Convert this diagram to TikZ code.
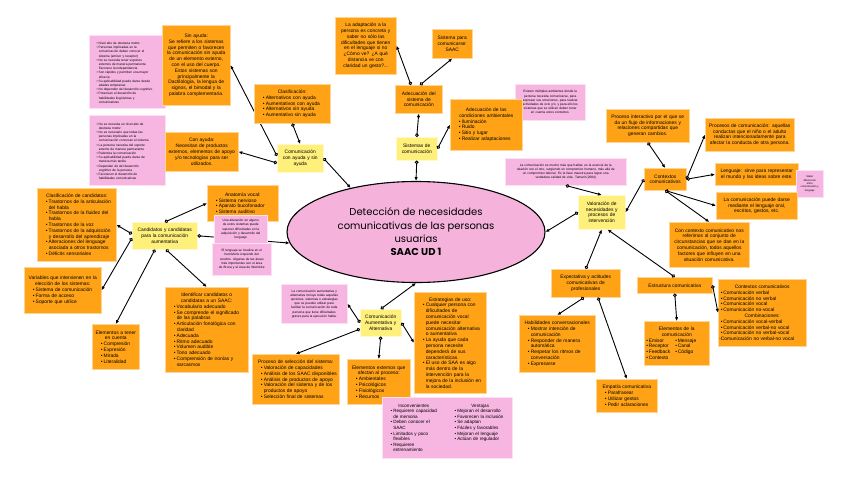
\documentclass[tikz,border=0pt]{standalone}
\usepackage{fontspec}
\setmainfont{Liberation Sans}
\newfontfamily\titlefont{Poppins}
\usetikzlibrary{shapes.geometric,arrows.meta}
\definecolor{orng}{HTML}{FFA216}
\definecolor{ylw}{HTML}{FFF07C}
\definecolor{pnk}{HTML}{F7B5E1}
\definecolor{pnkE}{HTML}{F5B3DC}
\newcommand\bodyf{\fontsize{4.9}{5.8}\selectfont}
\newcommand\tinyf{\fontsize{3.2}{4.2}\selectfont}
\newcommand\bulx[1]{\par\hangindent=#1\hangafter=1\noindent\hbox to #1{\hfil•\hskip1.1pt}}
\newcommand\bul{\bulx{10.5pt}}
\newcommand\pbul{\bulx{8.5pt}}
\newcommand\vbul{\bulx{8pt}}
\newcommand\hdr[1]{{\centering\noindent #1\par}}
\newcommand\li[1]{\par\noindent\hspace*{1.5pt}•\,#1}
\newcommand\mybox[7]{%
 \pgfmathsetmacro\bxw{#5-#3}%
 \pgfmathsetmacro\bxh{#6-#4}%
 \pgfmathsetmacro\bxt{#5-#3-2}%
 \node[#2,anchor=north west,minimum width=\bxw pt,minimum height=\bxh pt,text width=\bxt pt] (#1) at (#3,#4) {#7\par};}
\begin{document}
\begin{tikzpicture}[x=1pt,y=-1pt,
 ob/.style={fill=orng,draw=orng!45!white,line width=0.5pt,inner xsep=1pt,inner ysep=1pt,font=\bodyf,align=center},
 ol/.style={ob,align=left},
 yb/.style={ob,fill=ylw,draw=ylw!40!white},
 pb/.style={ob,fill=pnk,draw=pnk!40!white,font=\tinyf},
 pl/.style={pb,align=left},
 con/.style={draw=black,line width=0.9pt,{Circle[length=3.6pt,fill=white]}-{Latex[length=3.8pt,width=3.4pt]}}]
\fill[white] (0,0) rectangle (848,477);
\useasboundingbox (0,0) rectangle (848,477);

\mybox{pinkSin}{pl}{89}{35}{165}{108}{%
\pbul Nivel alto de destreza motriz
\pbul Personas implicadas en la\newline comunicación deben conocer el\newline sistema (emisor y receptor)
\pbul No se necesita tener soportes\newline externos de manera permanente.\newline Favorece la independencia
\pbul Son rápidos y permiten una mayor\newline eficacia
\pbul Su aplicabilidad puede darse desde\newline edades tempranas
\pbul No dependen del desarrollo cognitivo
\pbul Potencian el desarrollo de\newline habilidades lingüísticas y\newline comunicativas}
\mybox{sinayuda}{ob}{162}{25}{230}{105}{Sin ayuda:\\Se refiere a los sistemas\\que permiten o favorecen\\la comunicación sin ayuda\\de un elemento externo,\\con el uso del cuerpo.\\Estos sistemas son\\principalmente la\\Dactilología, la lengua de\\signos, el bimodal y la\\palabra complementaria.}
\mybox{pinkCon}{pl}{89}{115}{165}{185}{%
\pbul No se necesita un nivel alto de\newline destreza motriz
\pbul No es necesario que todas las\newline personas implicadas en la\newline comunicación conozcan el sistema
\pbul La persona necesita del soporte\newline externo de manera permanente
\pbul Ralentiza la comunicación
\pbul Su aplicabilidad puede darse de\newline manera más tardía
\pbul Dependen de del desarrollo\newline cognitivo de la persona
\pbul Favorecen el desarrollo de\newline habilidades comunicativas}
\mybox{conayuda}{ob}{165}{132}{238}{171}{Con ayuda:\\Necesitan de productos\\externos, elementos de apoyo\\y/o tecnologías para ser\\utilizados.}
\mybox{cay}{yb}{277}{144}{323}{172}{Comunicación\\con ayuda y sin\\ayuda}
\draw[con] ([yshift=-12pt]cay.north west) -- (sinayuda.east);
\mybox{clasif}{ol}{254}{84}{330}{123}{\hdr{Clasificación:}\bul Alternativos con ayuda\bul Aumentativos con ayuda\bul Alternativos sin ayuda\bul Aumentativo sin ayuda}

\mybox{adaptacion}{ob}{335}{17}{396}{74}{La adaptación a la\\persona es concreta y\\saber no sólo las\\dificultades que tienen\\en el lenguaje si no\\¿Cómo ve? ¿A qué\\distancia ve con\\claridad un gesto?...}
\mybox{sistemaSAAC}{ob}{432}{29}{472}{58}{Sistema para\\comunicarse:\\SAAC}
\mybox{adecSist}{ob}{395}{85}{442}{113}{Adecuación del\\sistema de\\comunicación}
\mybox{sistemasCom}{yb}{396}{137}{437}{160}{Sistemas de\\comunicación}
\mybox{pinkAmb}{pb}{515}{84}{585}{120}{Existen múltiples ambientes donde la\\persona necesita comunicarse, para\\expresar sus emociones, para realizar\\actividades de ocio y/o, y para ello los\\sistemas que se utilicen deben tener\\en cuenta estos contextos.}
\mybox{adecAmb}{ol}{450}{99}{522}{150}{\hdr{Adecuación de las\\condiciones ambientales}\bul Iluminación\bul Ruido\bul Sitio y lugar\bul Realizar adaptaciones}
\mybox{pinkQuote}{pb}{505}{158}{626}{185}{La comunicación es mucho más que hablar, es la esencia de la\\relación con el otro, surgiendo un compromiso humano, más allá de\\un compromiso laboral. Es la llave maestra para lograr una\\verdadera calidad de vida. Tamarit (2004)}

\mybox{proceso}{ob}{606}{109}{689}{142}{Proceso interactivo por el que se\\da un flujo de informaciones y\\relaciones compartidas que\\generan cambios.}
\mybox{procesosCom}{ob}{705}{118}{794}{151}{Procesos de comunicación: aquellas\\conductas que el niño o el adulto\\realizan intencionadamente para\\afectar la conducta de otra persona.}
\mybox{contextos}{ob}{644}{168}{686}{190}{Contextos\\comunicativos}
\mybox{lenguaje}{ob}{715}{163}{798}{185}{Lenguaje: sirve para representar\\el mundo y las ideas sobre este.}
\mybox{pinkSaber}{pb,font=\fontsize{2.6}{3.4}\selectfont}{796}{170}{823}{197}{Saber\\diferenciar\\entre\\comunicación y\\lenguaje}
\mybox{comPuede}{ob}{716}{192}{797}{219}{La comunicación puede darse\\mediante el lenguaje oral,\\escritos, gestos, etc.}
\mybox{conContexto}{ob}{669}{222}{749}{267}{Con contexto comunicativo nos\\referimos al conjunto de\\circunstancias que se dan en la\\comunicación, todos aquellos\\factores que influyen en una\\situación comunicativa.}
\mybox{valoracion}{yb}{578}{195}{625}{229}{Valoración de\\necesidades y\\procesos de\\intervención}
\mybox{estructura}{ob}{637}{277}{712}{293}{Estructura comunicativa}
\mybox{ctxList}{ol}{718}{279}{806}{346}{\hdr{Contextos comunicativos}\li{Comunicación verbal}\li{Comunicación no verbal}\li{Comunicación vocal}\li{Comunicación no-vocal}\par\hdr{Combinaciones:}\li{Comunicación vocal-verbal}\li{Comunicación verbal-no vocal}\li{Comunicación no verbal-vocal}\par\noindent -Comunicación no verbal-no vocal}
\mybox{elementosCom}{ol}{644}{321}{709}{365}{\hdr{Elementos de la\\comunicación}\noindent\hspace*{1pt}\begin{minipage}[t]{29pt}\raggedright •\,Emisor\\•\,Receptor\\•\,Feedback\\•\,Contexto\end{minipage}\begin{minipage}[t]{30pt}\raggedright •\,Mensaje\\•\,Canal\\•\,Código\end{minipage}}
\mybox{expectativa}{ob}{551}{269}{620}{297}{Expectativa y actitudes\\comunicativas de\\profesionales}
\mybox{habilidades}{ol}{519}{315}{595}{372}{\hdr{Habilidades conversacionales}\bul Mostrar intención de\newline comunicación\bul Responder de manera\newline automática\bul Respetar los ritmos de\newline conversación\bul Expresarse}
\mybox{empatia}{ol}{596}{379}{657}{412}{\hdr{Empatía comunicativa}\bul Parafrasear\bul Utilizar gestos\bul Pedir aclaraciones}

\node[ellipse,draw=black,line width=1.1pt,fill=pnkE,minimum width=258pt,minimum height=101pt,inner sep=0pt,align=center,font=\titlefont\fontsize{10}{13.3}\selectfont] (ell) at (416,232) {Detección de necesidades\\comunicativas de las personas\\usuarias\\\textbf{SAAC UD 1}};
\mybox{candidatos}{yb}{132}{222}{197}{249}{Candidatos y candidatas\\para la comunicación\\aumentativa}
\draw[con] (candidatos.east) -- (ell.185);
\mybox{anatomia}{ol}{207}{185}{278}{221}{\hdr{Anatomía vocal:}\bul Sistema nervioso\bul Aparato bucofonador\bul Sistema auditivo\par\vspace{3pt}}
\mybox{pinkAlter}{pb}{214}{215}{267}{243}{Una alteración en alguno\\de estos sistemas puede\\suponer dificultades en la\\adquisición y desarrollo del\\lenguaje}
\mybox{pinkLenguaje}{pb}{212}{243}{271}{275}{El lenguaje se localiza en el\\hemisferio izquierdo del\\cerebro. Algunas de las áreas\\más importantes son el área\\de Broca y el área de Wernicke}
\mybox{clasifCand}{ol}{37}{188}{116}{261}{\hdr{Clasificación de candidatos:}\bul Trastornos de la articulación\newline del habla\bul Trastornos de la fluidez del\newline habla\bul Trastornos de la voz\bul Trastornos de la adquisición\newline y desarrollo del aprendizaje\bul Alteraciones del lenguage\newline asociada a otros trastornos\bul Déficits sensoriales}
\mybox{variables}{ol}{24}{267}{101}{313}{\hdr{Variables que intervienen en la\\elección de los sistemas:}\bul Sistema de comunicación\bul Forma de acceso\bul Soporte que utilice}
\mybox{identificar}{ol}{165}{287}{248}{372}{\hdr{Identificar candidatos o\\candidatas a un SAAC:}\bul Vocabulario adecuado\bul Se comprende el significado\newline de las palabras\bul Articulación fonológica con\newline claridad\bul Adecuada\bul Ritmo adecuado\bul Volumen audible\bul Tono adecuado\bul Comprensión de ironías y\newline sarcasmos}
\mybox{elemTener}{ol}{92}{324}{139}{369}{\hdr{Elementos a tener\\en cuenta}\bul Compresión\bul Expresión\bul Mirada\bul Literalidad}

\mybox{caa}{yb}{360}{309}{401}{336}{Comunicación\\Aumentativa y\\Alternativa}
\mybox{pinkCAA}{pb}{281}{284}{347}{323}{La comunicación aumentativa y\\alternativa incluye todas aquellas\\opciones, sistemas o estrategias\\que se pueden utilizar para\\facilitar la comunicación de toda\\persona que tiene dificultades\\graves para la ejecución habla.}
\mybox{estrategias}{ol}{414}{292}{486}{393}{\hdr{Estrategias de uso:}\bul Cualquier persona con\newline dificultades de\newline comunicación vocal\newline puede necesitar\newline comunicación alternativa\newline o aumentativa\bul La ayuda que cada\newline persona necesite\newline dependerá de sus\newline características.\bul El uso de SAA es algo\newline más dentro de la\newline intervención para la\newline mejora de la inclusión en\newline la sociedad.}
\mybox{procesoSel}{ol}{252}{354}{339}{404}{\hdr{Proceso de selección del sistema:}\bul Valoración de capacidades\bul Análisis de los SAAC disponibles\bul Análisis de productos de apoyo\bul Valoración del sistema y de los\newline productos de apoyo\bul Selección final de sistemas}
\mybox{elemExt}{ol}{347}{359}{410}{404}{\hdr{Elementos externos que\\afectan al proceso:}\bul Ambientales\bul Psicológicos\bul Fisiológicos\bul Recursos}
\mybox{pinkVentajas}{pb,font=\fontsize{4.6}{5.6}\selectfont}{382}{397}{512}{458}{\noindent\hspace*{2pt}\begin{minipage}[t]{57pt}\raggedright\hdr{Inconvenientes}\vbul Requieren capacidad\newline de memoria\vbul Deben conocer el\newline SAAC\vbul Limitados y poco\newline flexibles\vbul Requieren\newline entrenamiento\par\end{minipage}\hspace{7pt}\begin{minipage}[t]{62pt}\raggedright\hdr{Ventajas}\vbul Mejoran el desarrollo\vbul Favorecen la inclusión\vbul Se adaptan\vbul Fáciles y favorables\vbul Mejoran el lenguaje\vbul Actúan de regulador\par\end{minipage}}

% connectors
\draw[con] ([yshift=-19pt]cay.north west) -- (conayuda.east);
\draw[con] (clasif.south) -- (cay.north);
\draw[con] (cay.east) -- (ell.146);
\draw[con] ([xshift=16pt]adecSist.north west) -- (adaptacion.east);
\draw[con] ([xshift=25pt]adecSist.north west) -- (sistemaSAAC.south);
\draw[con] (sistemasCom.north) -- (adecSist.south);
\draw[con] (sistemasCom.east) -- (adecAmb.west);
\draw[con] (sistemasCom.south) -- (ell.north);
\draw[con] (pinkQuote.south) -- (valoracion.north);
\draw[con] (valoracion.west) -- (ell.east);
\draw[con] (expectativa.north) -- (valoracion.south);
\draw[con] (estructura.north) -- ([xshift=-18pt]valoracion.south east);
\draw[con] (contextos.west) -- (valoracion.east);
\draw[con] (proceso.south) -- (contextos.north);
\draw[con] (contextos.east) -- (procesosCom.west);
\draw[con] (contextos.east) -- (lenguaje.west);
\draw[con] (contextos.south) -- (comPuede.west);
\draw[con] (contextos.south) -- (conContexto.north);
\draw[con] (estructura.south) -- (elementosCom.north);
\draw[con] (estructura.east) -- (ctxList.west);
\draw[con] ([xshift=33pt]expectativa.south west) -- (habilidades.north);
\draw[con] ([xshift=47pt]expectativa.south west) -- (empatia.north);
\draw[con] (caa.north) -- (ell.south);
\draw[con] (caa.west) -- (pinkCAA.east);
\draw[con] (caa.east) -- (estrategias.west);
\draw[con] ([yshift=-20pt]caa.north west) -- (procesoSel.north);
\draw[con] (caa.south) -- (elemExt.north);
\draw[con] (candidatos.north) -- (anatomia.west);
\draw[con] ([yshift=-12pt]candidatos.north west) -- (clasifCand.east);
\draw[con] ([yshift=-16pt]candidatos.north west) -- (variables.east);
\draw[con] ([xshift=34pt]candidatos.south west) -- (identificar.north);
\draw[con] ([xshift=23pt]candidatos.south west) -- (elemTener.north);
\end{tikzpicture}
\end{document}
